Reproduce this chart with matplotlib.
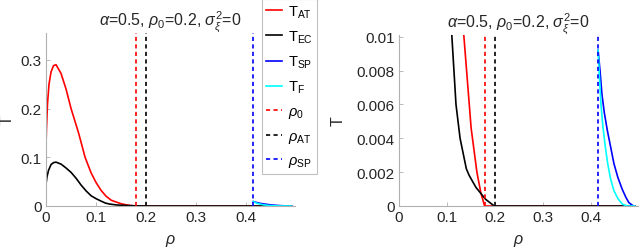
import matplotlib
matplotlib.use('Agg')
import matplotlib.pyplot as plt

plt.rcParams['font.family'] = ['Liberation Sans', 'DejaVu Sans']
plt.rcParams['mathtext.fontset'] = 'custom'
plt.rcParams['mathtext.rm'] = 'Liberation Sans'
plt.rcParams['mathtext.it'] = 'Liberation Sans:italic'

# values
rho_at = [0, 0.001, 0.003, 0.006, 0.01, 0.015, 0.02, 0.03, 0.04, 0.05, 0.065, 0.078,
          0.09, 0.1, 0.11, 0.12, 0.13, 0.135, 0.14, 0.15, 0.162, 0.17, 0.178, 0.49]
t_at = [0.125, 0.16, 0.21, 0.25, 0.275, 0.288, 0.29, 0.272, 0.24, 0.2, 0.15, 0.1,
        0.068, 0.048, 0.032, 0.02, 0.012, 0.01, 0.0082, 0.0046, 0.002, 0.0008, 0.0, 0.0]

rho_ec = [0, 0.002, 0.005, 0.01, 0.015, 0.02, 0.03, 0.04, 0.05, 0.06, 0.07, 0.08,
          0.09, 0.1, 0.11, 0.1185, 0.127, 0.14, 0.146, 0.16, 0.18, 0.198, 0.49]
t_ec = [0.045, 0.06, 0.073, 0.085, 0.089, 0.09, 0.086, 0.078, 0.069, 0.057, 0.043, 0.031,
        0.021, 0.015, 0.01, 0.006, 0.004, 0.0022, 0.0018, 0.0011, 0.0004, 0.0, 0.0]

rho_sp = [0.414, 0.418, 0.422, 0.427, 0.433, 0.44, 0.447, 0.455, 0.464, 0.472, 0.478, 0.4875, 0.49]
t_sp = [0.0092, 0.008, 0.0066, 0.0055, 0.0045, 0.0035, 0.0025, 0.0017, 0.001, 0.0005, 0.0002, 0.0, 0.0]

rho_f = [0.414, 0.417, 0.42, 0.424, 0.429, 0.434, 0.44, 0.447, 0.456, 0.465, 0.475, 0.49]
t_f = [0.0092, 0.0075, 0.006, 0.0047, 0.0035, 0.0025, 0.0016, 0.0009, 0.0004, 0.0001, 0.0, 0.0]

rho_0 = 0.179
rho_AT = 0.2
rho_SP = 0.413

labels = [r'T$_{\rm AT}$', r'T$_{\rm EC}$', r'T$_{\rm SP}$', r'T$_{\rm F}$',
          r'$\rho_{\rm 0}$', r'$\rho_{\rm AT}$', r'$\rho_{\rm SP}$']
title = r'$\alpha$=0.5, $\rho_0$=0.2, $\sigma^2_\xi$=0'

left_yticks = [0, 0.1, 0.2, 0.3]
left_ylabels = ['0', '0.1', '0.2', '0.3']
right_yticks = [0, 0.002, 0.004, 0.006, 0.008, 0.01]
right_ylabels = ['0', '0.002', '0.004', '0.006', '0.008', '0.01']
xticks = [0, 0.1, 0.2, 0.3, 0.4]
xlabels = ['0', '0.1', '0.2', '0.3', '0.4']

fig = plt.figure(figsize=(6.4, 2.51), dpi=100)
ax1 = fig.add_axes([46/640, 44/251, 249/640, 173/251])
ax2 = fig.add_axes([399/640, 44/251, 239/640, 171/251])

dash = (0, (2.5, 2))
lw = 1.2
handles = []
for ax, ylim, yt, yl in [(ax1, 0.355, left_yticks, left_ylabels),
                         (ax2, 0.0101, right_yticks, right_ylabels)]:
    h1, = ax.plot(rho_at, t_at, color='#ff0000', lw=lw)
    h2, = ax.plot(rho_ec, t_ec, color='black', lw=lw)
    h3, = ax.plot(rho_sp, t_sp, color='#0000ff', lw=lw)
    h4, = ax.plot(rho_f, t_f, color='#00ffff', lw=lw)
    h5 = ax.axvline(rho_0, color='#ff0000', ls=dash, lw=lw)
    h6 = ax.axvline(rho_AT, color='black', ls=dash, lw=lw)
    h7 = ax.axvline(rho_SP, color='#0000ff', ls=dash, lw=lw)
    handles = [h1, h2, h3, h4, h5, h6, h7]
    ax.set_xlim(0, 0.497)
    ax.set_ylim(0, ylim)
    ax.set_xticks(xticks)
    ax.set_xticklabels(xlabels)
    ax.set_yticks(yt)
    ax.set_yticklabels(yl)
    for s in ['top', 'right']:
        ax.spines[s].set_visible(False)
    for s in ['left', 'bottom']:
        ax.spines[s].set_color('#b0b0b0')
        ax.spines[s].set_linewidth(0.8)
    ax.tick_params(direction='in', length=3, width=0.6, color='#b0b0b0',
                   labelsize=11, labelcolor='#262626', pad=3)
    ax.set_xlabel(r'$\rho$', fontsize=11.5, color='#262626')
    ax.set_ylabel('T', fontsize=11.5, color='#262626')
    ax.set_title(title, fontsize=11.5, color='#262626', pad=6)

ax1.xaxis.set_label_coords(0.5, -0.15)
ax2.xaxis.set_label_coords(0.5, -0.15)
ax1.yaxis.set_label_coords(-0.125, 0.5)
ax2.yaxis.set_label_coords(-0.225, 0.5)

leg = fig.legend(handles, labels, loc='upper left', bbox_to_anchor=(262/640, 1.0),
                 fontsize=10.5, handlelength=1.1, handletextpad=0.4,
                 labelspacing=0.6, borderpad=0.3, borderaxespad=0,
                 fancybox=False, framealpha=1, edgecolor='#c0c0c0')
leg.get_frame().set_linewidth(0.8)

fig.savefig('out.png', dpi=100)
